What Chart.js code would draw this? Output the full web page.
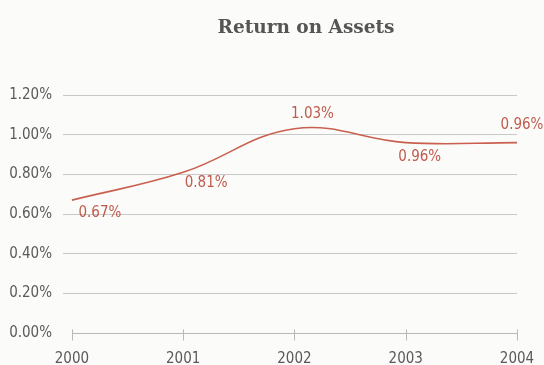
<!DOCTYPE html>
<html>
<head>
<meta charset="utf-8">
<script src="https://cdn.jsdelivr.net/npm/chart.js@4.4.1/dist/chart.umd.min.js"></script>
<style>
  html, body { margin: 0; padding: 0; background: #fbfbf9; }
  #wrap { width: 544px; height: 365px; position: relative; }
</style>
</head>
<body>
<div id="wrap"><canvas id="c" width="544" height="365"></canvas></div>
<script>
// Return on assets, by year
const years = [2000, 2001, 2002, 2003, 2004];
const roaPercent = [0.67, 0.81, 1.03, 0.96, 0.96];
const yTicks = [0, 0.2, 0.4, 0.6, 0.8, 1.0, 1.2];
const chartTitle = 'Return on Assets';

const numFont = "'DejaVu Sans Condensed', 'Roboto', sans-serif";
const lineColor = '#c9604f';
const labelColor = '#bf5a4c';
const textColor = '#5a5a5a';

// where each value label sits relative to its point
const labelOffsets = [[28, 13], [23, 11], [18, -15], [14, 15], [5, -17]];

const valueLabels = {
  id: 'valueLabels',
  afterDatasetsDraw(chart) {
    const ctx = chart.ctx;
    const meta = chart.getDatasetMeta(0);
    ctx.save();
    ctx.font = "15px " + numFont;
    ctx.fillStyle = labelColor;
    ctx.textAlign = 'center';
    ctx.textBaseline = 'middle';
    meta.data.forEach((pt, i) => {
      const [dx, dy] = labelOffsets[i];
      ctx.fillText(roaPercent[i].toFixed(2) + '%', pt.x + dx, pt.y + dy);
    });
    ctx.restore();
  }
};

// baseline with tick marks, spanning the year range
const baseAxis = {
  id: 'baseAxis',
  beforeDatasetsDraw(chart) {
    const ctx = chart.ctx;
    const xs = chart.scales.x, ys = chart.scales.y;
    const y0 = Math.round(ys.getPixelForValue(0)) + 0.5;
    ctx.save();
    ctx.strokeStyle = '#b8b8b8';
    ctx.lineWidth = 1;
    ctx.beginPath();
    ctx.moveTo(xs.getPixelForValue(years[0]), y0);
    ctx.lineTo(xs.getPixelForValue(years[years.length - 1]), y0);
    years.forEach(yr => {
      const px = Math.round(xs.getPixelForValue(yr)) + 0.5;
      ctx.moveTo(px, y0 - 4);
      ctx.lineTo(px, y0 + 7);
    });
    ctx.stroke();
    ctx.restore();
  }
};

const titleDraw = {
  id: 'titleDraw',
  afterDraw(chart) {
    const ctx = chart.ctx;
    ctx.save();
    ctx.font = "bold 18.5px 'DejaVu Serif', 'Liberation Serif', serif";
    ctx.fillStyle = '#555555';
    ctx.textAlign = 'center';
    ctx.textBaseline = 'middle';
    ctx.fillText(chartTitle, 306, 28);
    ctx.restore();
  }
};

new Chart(document.getElementById('c'), {
  type: 'line',
  data: {
    datasets: [{
      data: years.map((yr, i) => ({ x: yr, y: roaPercent[i] })),
      borderColor: lineColor,
      borderWidth: 1.6,
      pointRadius: 0,
      tension: 0.4,
      fill: false
    }]
  },
  options: {
    responsive: false,
    animation: false,
    devicePixelRatio: 1,
    layout: { padding: { top: 95, right: 27, left: 0, bottom: 0 } },
    plugins: { legend: { display: false }, tooltip: { enabled: false }, title: { display: false } },
    scales: {
      x: {
        type: 'linear',
        min: 1999.92,
        max: 2004,
        afterBuildTicks(scale) { scale.ticks = years.map(v => ({ value: v })); },
        afterFit(scale) { scale.height = 32; },
        grid: { display: false },
        border: { display: false },
        ticks: {
          color: textColor,
          font: { family: numFont, size: 15 },
          padding: 9,
          maxRotation: 0,
          autoSkip: false,
          callback: v => String(v)
        }
      },
      y: {
        min: 0,
        max: 1.2,
        afterBuildTicks(scale) { scale.ticks = yTicks.map(v => ({ value: v })); },
        afterFit(scale) { scale.width = 63; },
        border: { display: false },
        grid: {
          drawTicks: false,
          color: ctx => (ctx.tick && ctx.tick.value === 0) ? 'rgba(0,0,0,0)' : '#c9c9c9',
          lineWidth: 1
        },
        ticks: {
          color: textColor,
          font: { family: numFont, size: 15 },
          padding: 11,
          callback: v => v.toFixed(2) + '%'
        }
      }
    }
  },
  plugins: [baseAxis, valueLabels, titleDraw]
});
</script>
</body>
</html>
